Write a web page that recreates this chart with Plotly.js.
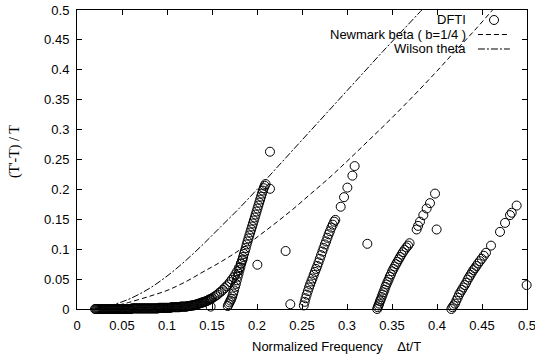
<!DOCTYPE html>
<html>
<head>
<meta charset="utf-8">
<script src="https://cdn.plot.ly/plotly-3.0.1.min.js"></script>
<style>html,body{margin:0;padding:0;background:#fff;}#chart{width:535px;height:362px;}</style>
</head>
<body>
<div id="chart"></div>
<script>
// ---- DFTI data ----
const bandX = [
  0.020,0.021,0.022,0.023,0.024,0.025,0.026,0.027,0.028,0.029,0.030,0.031,0.032,0.033,0.034,0.035,0.036,0.037,0.038,0.039,
  0.040,0.041,0.042,0.043,0.044,0.045,0.046,0.047,0.048,0.049,0.050,0.051,0.052,0.053,0.054,0.055,0.056,0.057,0.058,0.059,0.060,
  0.061,0.062,0.063,0.064,0.065,0.066,0.067,0.068,0.069,0.070,0.071,0.072,0.073,0.074,0.075,0.076,0.077,0.078,0.079,0.080,
  0.081,0.082,0.083,0.084,0.085,0.086,0.087,0.088,0.089,0.090,
  0.091,0.092,0.093,0.094,0.095,0.096,0.097,0.098,0.099,0.100,0.101,0.102,0.103,0.104,
  0.105,0.106,0.107,0.108,0.109,0.110,0.111,0.112,0.113,0.114,
  0.115,0.116,0.117,0.118,0.119,0.120,0.121,0.122,
  0.123,0.124,0.125,0.126,0.127,0.128,0.129,0.130,0.131,0.132,0.133,0.134,0.135,0.136,0.137,0.138,0.139,0.140,
  0.141,0.142,0.143,0.144,0.145,0.146,0.147,0.148,0.149,0.150,
  0.152,0.154,0.156,0.158,0.160,0.162,0.164,0.166,0.168,0.170,0.172,0.174,0.176,0.178,0.180,0.182,0.184];
const bandY = [
  0,0,0,0,0,0,0,0,0,0,0,0,0,0,0,0,0,0,0,0,
  0,0,0,0,0,0,0,0,0,0,0,0,0,0,0,0,0,0,0,0,0,
  0.001,0.001,0.001,0.001,0.001,0.001,0.001,0.001,0.001,0.001,0.001,0.001,0.001,0.001,0.001,0.001,0.001,0.001,0.001,0.001,
  0.001,0.001,0.001,0.001,0.001,0.001,0.001,0.001,0.001,0.001,
  0.002,0.002,0.002,0.002,0.002,0.002,0.002,0.002,0.002,0.002,0.002,0.002,0.002,0.002,
  0.003,0.003,0.003,0.003,0.003,0.003,0.003,0.003,0.003,0.003,
  0.004,0.004,0.004,0.004,0.004,0.004,0.004,0.004,
  0.005,0.005,0.005,0.005,0.006,0.006,0.006,0.006,0.007,0.007,0.008,0.008,0.009,0.009,0.010,0.010,0.011,0.011,
  0.012,0.012,0.013,0.013,0.014,0.015,0.016,0.016,0.017,0.018,
  0.020,0.022,0.024,0.027,0.029,0.032,0.035,0.038,0.041,0.045,0.049,0.053,0.058,0.063,0.069,0.076,0.083];

const branch1X = [0.1675,0.1685,0.1695,0.1705,0.1715,0.1725,0.1735,0.1745,0.1755,0.1765,0.1775,0.1785,0.1795,0.1805,0.1815,0.1825,0.1835,0.1845,0.1855,0.1865,0.1875,0.1885,0.1895,0.1905,0.1915,0.1925,0.1935,0.1945,0.1955,0.1965,0.1975,0.1985,0.1995,0.2005,0.2015,0.2025,0.2035,0.2045,0.2055,0.2065,0.2075,0.2085,0.2095];
const branch1Y = [0.005,0.008,0.011,0.014,0.017,0.021,0.026,0.031,0.037,0.042,0.048,0.054,0.059,0.065,0.070,0.076,0.081,0.087,0.092,0.097,0.102,0.108,0.113,0.118,0.123,0.128,0.133,0.138,0.143,0.148,0.153,0.158,0.163,0.168,0.173,0.178,0.183,0.188,0.193,0.198,0.202,0.206,0.209];

const branch2X = [0.2520,0.2530,0.2540,0.2552,0.2565,0.2578,0.2590,0.2603,0.2616,0.2630,0.2643,0.2656,0.2670,0.2684,0.2698,0.2712,0.2726,0.2740,0.2754,0.2768,0.2782,0.2796,0.2810,0.2826,0.2842,0.2858,0.2870,0.2930,0.2967,0.3004,0.3060,0.3085];
const branch2Y = [0.006,0.012,0.018,0.024,0.030,0.036,0.041,0.046,0.051,0.057,0.062,0.067,0.072,0.078,0.084,0.090,0.096,0.102,0.108,0.113,0.119,0.125,0.130,0.136,0.141,0.146,0.149,0.171,0.187,0.203,0.223,0.239];

const branch3X = [0.3335,0.3342,0.3350,0.3358,0.3366,0.3375,0.3385,0.3395,0.3405,0.3416,0.3427,0.3438,0.3450,0.3462,0.3475,0.3488,0.3502,0.3516,0.3530,0.3545,0.3560,0.3575,0.3590,0.3606,0.3622,0.3640,0.3660,0.3678,0.3695,0.3774,0.3790,0.3811,0.3848,0.3885,0.3922,0.3978];
const branch3Y = [0.000,0.003,0.006,0.009,0.013,0.016,0.020,0.024,0.028,0.032,0.037,0.041,0.045,0.049,0.054,0.058,0.063,0.067,0.071,0.075,0.079,0.083,0.087,0.091,0.095,0.099,0.103,0.106,0.110,0.133,0.139,0.146,0.157,0.168,0.177,0.193];

const branch4X = [0.4160,0.4172,0.4185,0.4200,0.4215,0.4230,0.4245,0.4260,0.4276,0.4292,0.4308,0.4324,0.4340,0.4356,0.4372,0.4388,0.4404,0.4420,0.4438,0.4456,0.4476,0.4496,0.4520,0.4544,0.4600,0.4700,0.4756,0.4811,0.4830,0.4885];
const branch4Y = [0.000,0.003,0.006,0.009,0.014,0.019,0.024,0.028,0.032,0.036,0.040,0.044,0.049,0.053,0.057,0.061,0.065,0.068,0.072,0.076,0.080,0.084,0.089,0.094,0.106,0.129,0.144,0.157,0.161,0.173];

const strayX = [0.1485,0.2004,0.2144,0.2144,0.2318,0.2370,0.3226,0.3996,0.4996];
const strayY = [0.004,0.074,0.201,0.263,0.097,0.008,0.109,0.133,0.040];

// ---- theory curves ----
const newmarkX = [0.02,0.03,0.04,0.05,0.06,0.08,0.10,0.12,0.14,0.16,0.18,0.20,0.22,0.24,0.26,0.28,0.30,0.32,0.34,0.36,0.38,0.40,0.42,0.44,0.46,0.47];
const newmarkY = [0.001,0.003,0.005,0.008,0.012,0.021,0.031,0.045,0.062,0.079,0.098,0.120,0.143,0.167,0.193,0.219,0.247,0.276,0.305,0.335,0.366,0.398,0.431,0.463,0.497,0.514];
const wilsonX = [0.02,0.03,0.04,0.05,0.06,0.08,0.10,0.12,0.14,0.16,0.18,0.20,0.22,0.24,0.26,0.28,0.30,0.32,0.34,0.36,0.38,0.39];
const wilsonY = [0.001,0.003,0.007,0.012,0.018,0.034,0.055,0.080,0.108,0.138,0.168,0.200,0.233,0.266,0.299,0.332,0.365,0.398,0.431,0.463,0.495,0.511];

const legendNames = ["DFTI", "Newmark beta ( b=1/4 )", "Wilson theta"];
const xTitle = "Normalized Frequency\u00a0\u00a0\u00a0\u00a0\u0394t/T";
const yTitle = "(T'-T) / T";

const dftiX = [].concat(bandX, branch1X, branch2X, branch3X, branch4X, strayX);
const dftiY = [].concat(bandY, branch1Y, branch2Y, branch3Y, branch4Y, strayY);

const font = {family: "Liberation Sans, Arial, sans-serif", size: 13, color: "#000"};

const traces = [
  {x: newmarkX, y: newmarkY, mode: "lines", name: legendNames[1],
   line: {color: "#000", width: 1, dash: "5px,3px", shape: "spline"}, hoverinfo: "skip"},
  {x: wilsonX, y: wilsonY, mode: "lines", name: legendNames[2],
   line: {color: "#000", width: 1, dash: "7px,2px,2px,2px", shape: "spline"}, hoverinfo: "skip"},
  {x: dftiX, y: dftiY, mode: "markers", name: legendNames[0], cliponaxis: false,
   marker: {symbol: "circle-open", size: 9, color: "#000", line: {width: 1, color: "#000"}}}
];

const axisCommon = {
  showgrid: false, zeroline: false, showline: true, mirror: "ticks",
  linecolor: "#000", linewidth: 1, ticks: "inside", ticklen: 5, tickwidth: 1,
  tickcolor: "#000", tickfont: font, dtick: 0.05, tick0: 0, ticklabeloverflow: "allow"
};

const layout = {
  width: 535, height: 362,
  margin: {l: 77, r: 8, t: 10, b: 53, pad: 0},
  paper_bgcolor: "#fff", plot_bgcolor: "#fff",
  showlegend: false,
  font: font,
  xaxis: Object.assign({}, axisCommon, {range: [0, 0.5], ticklabelstandoff: 4}),
  yaxis: Object.assign({}, axisCommon, {range: [0, 0.5], ticklabelstandoff: 4}),
  annotations: [
    {text: legendNames[0], xref: "paper", yref: "paper", x: 0.869, y: 0.9666, xanchor: "right", yanchor: "middle", showarrow: false, font: font},
    {text: legendNames[1], xref: "paper", yref: "paper", x: 0.869, y: 0.918, xanchor: "right", yanchor: "middle", showarrow: false, font: font},
    {text: legendNames[2], xref: "paper", yref: "paper", x: 0.869, y: 0.8696, xanchor: "right", yanchor: "middle", showarrow: false, font: font},
    {text: xTitle, xref: "paper", yref: "paper", x: 0.5756, y: -0.127, xanchor: "center", yanchor: "middle", showarrow: false, font: font},
    {text: yTitle, xref: "paper", yref: "paper", x: -0.1378, y: 0.528, xanchor: "center", yanchor: "middle", textangle: -90, showarrow: false,
     font: {family: "Liberation Serif, Times New Roman, serif", size: 14, color: "#000"}}
  ],
  shapes: [
    {type: "circle", xref: "paper", yref: "paper", xsizemode: "pixel", ysizemode: "pixel",
     xanchor: 0.9267, yanchor: 0.9666, x0: -4.5, x1: 4.5, y0: -4.5, y1: 4.5, line: {color: "#000", width: 1}},
    {type: "line", xref: "paper", yref: "paper", x0: 0.891, x1: 0.962, y0: 0.918, y1: 0.918,
     line: {color: "#000", width: 1, dash: "5px,3px"}},
    {type: "line", xref: "paper", yref: "paper", x0: 0.891, x1: 0.962, y0: 0.8696, y1: 0.8696,
     line: {color: "#000", width: 1, dash: "7px,2px,2px,2px"}}
  ]
};

Plotly.newPlot("chart", traces, layout, {displayModeBar: false, staticPlot: true});
</script>
</body>
</html>
